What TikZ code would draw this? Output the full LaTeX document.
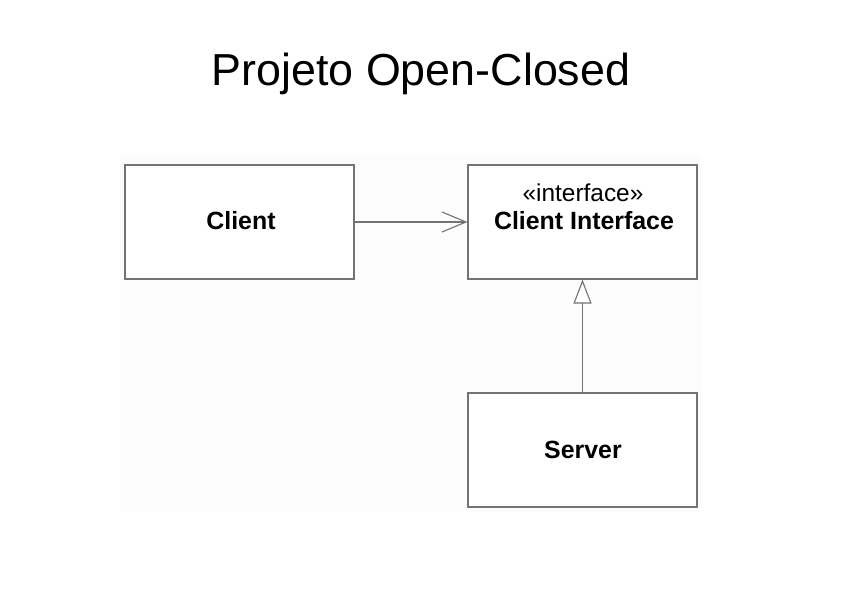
\documentclass[tikz,border=0pt]{standalone}
\usepackage{fontspec}
\setmainfont{Liberation Sans}
\usetikzlibrary{arrows.meta}
\begin{document}
\begin{tikzpicture}[x=1bp,y=-1bp,
  umlbox/.style={draw=black!55, line width=1.1bp, fill=white, minimum width=229bp, minimum height=114bp, inner sep=0pt},
  conn/.style={draw=black!55, line width=1.1bp},
  boxlabel/.style={font=\fontsize{25}{29}\selectfont\bfseries, inner sep=0pt},
  stereo/.style={font=\fontsize{24.5}{28}\selectfont, inner sep=0pt}]
\useasboundingbox (0,0) rectangle (842,595);
\fill[black!1.2] (120,155) rectangle (702,512);
\node[font=\fontsize{45}{50}\selectfont, inner sep=0pt] (title) at (421,74) {Projeto Open-Closed};
\node[umlbox] (client) at (239.5,222) {};
\node[umlbox] (iface) at (582.5,222) {};
\node[umlbox] (server) at (582.5,450) {};
\node[boxlabel] (clientlbl) at (241,221) {Client};
\node[stereo] (stereolbl) at (583,193) {«interface»};
\node[boxlabel] (ifacelbl) at (584,221) {Client Interface};
\node[boxlabel] (serverlbl) at (583,450) {Server};
\draw[conn, -{Straight Barb[length=24bp, width=20bp, line width=1.1bp]}] (client.east) -- (iface.west);
\draw[conn, -{Triangle[open, length=24bp, width=18bp, line width=1.1bp, fill=white]}] (server.north) -- (iface.south);
\end{tikzpicture}
\end{document}
